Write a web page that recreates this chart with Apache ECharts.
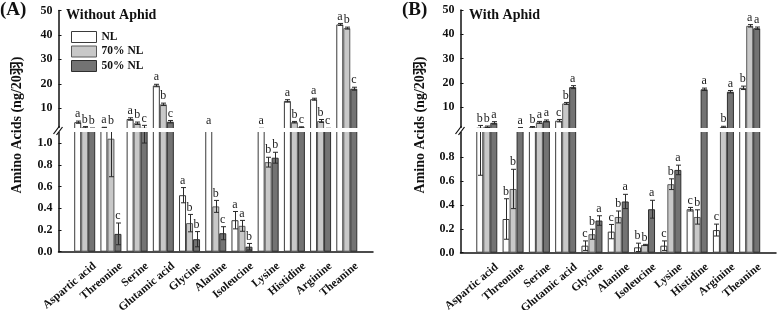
<!DOCTYPE html>
<html>
<head>
<meta charset="utf-8">
<script src="https://cdn.jsdelivr.net/npm/echarts@6/dist/echarts.min.js"></script>
<style>
  html, body { margin: 0; padding: 0; background: #fff; }
  #chart { width: 777px; height: 310px; }
</style>
</head>
<body>
<div id="chart"></div>
<script>
const categories = ['Aspartic acid', 'Threonine', 'Serine', 'Glutamic acid', 'Glycine', 'Alanine',
  'Isoleucine', 'Lysine', 'Histidine', 'Arginine', 'Theanine'];
const groups = ['NL', '70% NL', '50% NL'];
const upperTicks = [10, 20, 30, 40, 50];
const lowerTicksA = [0, 0.2, 0.4, 0.6, 0.8, 1.0];
const lowerTicksB = [0, 0.2, 0.4, 0.6, 0.8];

// (A) without aphid
const nlA = [4.3, 2.05, 5.6, 19.3, 0.52, 1.5, 0.29, 1.6, 13.0, 13.7, 44.3];
const nlErrA = [0.45, 0.15, 0.5, 0.5, 0.07, 0.2, 0.08, 0.2, 0.5, 0.4, 0.4];
const nl70A = [2.2, 1.04, 3.85, 11.6, 0.263, 0.417, 0.238, 0.824, 4.3, 4.8, 42.8];
const nl70ErrA = [0.3, 0.35, 0.5, 0.5, 0.08, 0.055, 0.05, 0.045, 0.3, 0.6, 0.4];
const nl50A = [1.6, 0.164, 2.0, 4.5, 0.115, 0.17, 0.046, 0.865, 2.2, 1.5, 18.0];
const nl50ErrA = [0.3, 0.1, 1.0, 0.5, 0.07, 0.06, 0.03, 0.05, 0.2, 0.3, 0.6];
const nlLetA = ['a', 'a', 'a', 'a', 'a', 'a', 'a', 'a', 'a', 'a', 'a'];
const nl70LetA = ['b', 'b', 'b', 'b', 'b', 'b', 'a', 'b', 'b', 'b', 'b'];
const nl50LetA = ['b', 'c', 'c', 'c', 'b', 'c', 'b', 'b', 'c', 'c', 'c'];

// (B) with aphid
const nlB = [1.6, 0.283, 1.8, 4.5, 0.059, 0.177, 0.045, 0.059, 0.365, 0.19, 18.0];
const nlErrB = [0.95, 0.17, 0.3, 0.5, 0.04, 0.06, 0.035, 0.04, 0.015, 0.05, 0.7];
const nl70B = [2.0, 0.535, 3.8, 11.6, 0.155, 0.30, 0.065, 0.575, 0.30, 1.9, 43.5];
const nl70ErrB = [0.3, 0.165, 0.4, 0.4, 0.042, 0.05, 0.005, 0.045, 0.06, 0.3, 0.5];
const nl50B = [3.6, 1.5, 4.4, 18.3, 0.27, 0.43, 0.365, 0.695, 17.4, 16.4, 42.5];
const nl50ErrB = [0.5, 0.15, 0.4, 0.6, 0.04, 0.06, 0.075, 0.04, 0.5, 0.5, 0.5];
const nlLetB = ['b', 'b', 'b', 'c', 'c', 'c', 'b', 'c', 'c', 'c', 'b'];
const nl70LetB = ['b', 'b', 'a', 'b', 'b', 'b', 'b', 'b', 'b', 'b', 'a'];
const nl50LetB = ['a', 'a', 'a', 'a', 'a', 'a', 'a', 'a', 'a', 'a', 'a'];

const SERIF = '"Liberation Serif", "Times New Roman", serif';
const BAR_W = 7;
const CAP = 2.5;
const fills = ['#ffffff', '#c8c8c8', '#737373'];
const borders = ['#3a3a3a', '#5a5a5a', '#2e2e2e'];

const panels = [
  {
    left: 58.5, right: 404, upTop: 10.5, upH: 119.5, upMin: 1.1, loTop: 130, loH: 121.7, loMax: 1.12,
    lowTicks: lowerTicksA,
    vals: [nlA, nl70A, nl50A], errs: [nlErrA, nl70ErrA, nl50ErrA], lets: [nlLetA, nl70LetA, nl50LetA]
  },
  {
    left: 460.5, right: 1, upTop: 10, upH: 120, upMin: 0.67, loTop: 130, loH: 122.7, loMax: 1.03,
    lowTicks: lowerTicksB,
    vals: [nlB, nl70B, nl50B], errs: [nlErrB, nl70ErrB, nl50ErrB], lets: [nlLetB, nl70LetB, nl50LetB]
  }
];

const axisCats = [''].concat(categories, ['']);
const pad = arr => ['-'].concat(arr, ['-']);

const grid = [], xAxis = [], yAxis = [], series = [];
const axisLine = { show: true, lineStyle: { color: '#111', width: 1.5 } };
const tickLabel = { fontFamily: SERIF, fontWeight: 'bold', fontSize: 12, color: '#111' };

function errRender(params, api) {
  const i = api.value(0), g = api.value(1), v = api.value(2), e = api.value(3);
  const hi = api.coord([i, v + e]);
  const lo = api.coord([i, v - e]);
  const x = Math.round(hi[0] + (g - 1) * BAR_W) + 0.5;
  const st = { stroke: '#2a2a2a', lineWidth: 1 };
  return {
    type: 'group',
    children: [
      { type: 'line', shape: { x1: x, y1: hi[1], x2: x, y2: lo[1] }, style: st },
      { type: 'line', shape: { x1: x - CAP, y1: hi[1], x2: x + CAP, y2: hi[1] }, style: st },
      { type: 'line', shape: { x1: x - CAP, y1: lo[1], x2: x + CAP, y2: lo[1] }, style: st }
    ]
  };
}

function letterRender(lets) {
  return function (params, api) {
    const i = api.value(0), g = api.value(1), y = api.value(2);
    const pt = api.coord([i, y]);
    return {
      type: 'text',
      x: pt[0] + (g - 1) * BAR_W,
      y: pt[1] - 1,
      style: {
        text: lets[g][i - 1], fill: '#222', font: '12px ' + SERIF,
        align: 'center', verticalAlign: 'bottom', textAlign: 'center', textVerticalAlign: 'bottom'
      }
    };
  };
}

panels.forEach((p, k) => {
  const gu = 3 * k, gl = 3 * k + 1, gx = 3 * k + 2;
  const upPx = p.upH / (50 - p.upMin);
  const loPx = p.loH / p.loMax;
  const upVis = p.upMin + 2 / upPx;
  const loVis = p.loMax - 2 / loPx;

  grid.push({ left: p.left, right: p.right, top: p.upTop, height: p.upH, outerBoundsMode: 'none', containLabel: false });
  grid.push({ left: p.left, right: p.right, top: p.loTop, height: p.loH, outerBoundsMode: 'none', containLabel: false });
  // label-only grid, shifted a little to the right like the original labels
  grid.push({ left: p.left + 10, right: p.right - 10, top: p.loTop, height: p.loH, outerBoundsMode: 'none', containLabel: false });

  xAxis.push({ gridIndex: gu, type: 'category', data: axisCats, boundaryGap: false, show: false });
  xAxis.push({
    gridIndex: gl, type: 'category', data: axisCats, boundaryGap: false,
    axisLine: axisLine, axisTick: { show: false }, axisLabel: { show: false }, splitLine: { show: false }
  });
  xAxis.push({
    gridIndex: gx, type: 'category', data: axisCats, boundaryGap: false,
    axisLine: { show: false }, axisTick: { show: false }, splitLine: { show: false },
    axisLabel: Object.assign({}, tickLabel, { interval: 0, rotate: 40, margin: 13, hideOverlap: false, fontSize: 11.5 })
  });

  yAxis.push({
    gridIndex: gu, type: 'value', min: p.upMin, max: 50,
    axisLine: axisLine, splitLine: { show: false },
    axisTick: { show: true, inside: true, length: 3, customValues: upperTicks, lineStyle: { color: '#111' } },
    axisLabel: Object.assign({ customValues: upperTicks, margin: 6, formatter: v => String(v) }, tickLabel)
  });
  yAxis.push({
    gridIndex: gl, type: 'value', min: 0, max: p.loMax,
    axisLine: axisLine, splitLine: { show: false },
    axisTick: { show: true, inside: true, length: 3, customValues: p.lowTicks, lineStyle: { color: '#111' } },
    axisLabel: Object.assign({ customValues: p.lowTicks, margin: 6, formatter: v => v.toFixed(1) }, tickLabel)
  });
  yAxis.push({ gridIndex: gx, type: 'value', min: 0, max: 1, show: false });

  groups.forEach((name, g) => {
    const common = {
      type: 'bar', name: name, data: pad(p.vals[g]), barWidth: BAR_W, barGap: '0%',
      itemStyle: { color: fills[g], borderColor: borders[g], borderWidth: 1 }, silent: true
    };
    series.push(Object.assign({ xAxisIndex: gu, yAxisIndex: gu }, common));
    series.push(Object.assign({ xAxisIndex: gl, yAxisIndex: gl }, common));
  });

  const errData = [], letUp = [], letLo = [];
  p.vals.forEach((vals, g) => {
    vals.forEach((v, i) => {
      const e = p.errs[g][i];
      errData.push([i + 1, g, v, e]);
      const top = v + e;
      if (top > loVis) letUp.push([i + 1, g, Math.max(top, upVis)]);
      else letLo.push([i + 1, g, top]);
    });
  });

  [gu, gl].forEach(ax => {
    series.push({
      type: 'custom', xAxisIndex: ax, yAxisIndex: ax, data: errData, clip: true, silent: true,
      encode: { x: 0, y: 2 }, renderItem: errRender, z: 3
    });
  });
  series.push({
    type: 'custom', xAxisIndex: gu, yAxisIndex: gu, data: letUp, clip: false, silent: true,
    encode: { x: 0, y: 2 }, renderItem: letterRender(p.lets), z: 200
  });
  series.push({
    type: 'custom', xAxisIndex: gl, yAxisIndex: gl, data: letLo, clip: false, silent: true,
    encode: { x: 0, y: 2 }, renderItem: letterRender(p.lets), z: 200
  });
});

// white band + axis break marks
const graphic = [];
panels.forEach(p => {
  const ax = p.left;
  const right = 777 - p.right;
  graphic.push({ type: 'rect', z: 100, shape: { x: ax - 2, y: 128, width: right - ax + 4, height: 4 }, style: { fill: '#fff' } });
  [[-4, 0], [-1, 1]].forEach(d => {
    graphic.push({
      type: 'line', z: 101,
      shape: { x1: ax + d[0] - 1, y1: 134 + d[1], x2: ax + d[0] + 5, y2: 126 + d[1] },
      style: { stroke: '#111', lineWidth: 1.2 }
    });
  });
});

function txt(text, x, y, font) {
  return {
    type: 'text', z: 150, x: x, y: y,
    style: { text: text, font: font, fill: '#111', align: 'left', verticalAlign: 'top', textAlign: 'left', textVerticalAlign: 'top' }
  };
}
graphic.push(txt('(A)', 0, 1, 'bold 19px ' + SERIF));
graphic.push(txt('(B)', 402, 1, 'bold 19px ' + SERIF));
graphic.push(txt('Without Aphid', 66, 8, 'bold 14px ' + SERIF));
graphic.push(txt('With Aphid', 469, 8, 'bold 14px ' + SERIF));
[17.5, 420].forEach(x => {
  graphic.push({
    type: 'text', z: 150, x: x, y: 125, rotation: Math.PI / 2,
    style: {
      text: 'Amino Acids (ng/20羽)', font: 'bold 14px ' + SERIF + ', "Noto Sans CJK SC"', fill: '#111',
      align: 'center', verticalAlign: 'middle', textAlign: 'center', textVerticalAlign: 'middle'
    }
  });
});

const chart = echarts.init(document.getElementById('chart'), null, { renderer: 'canvas' });
chart.setOption({
  animation: false,
  backgroundColor: '#fff',
  textStyle: { fontFamily: SERIF },
  legend: {
    data: groups, orient: 'vertical', left: 66, top: 26, itemWidth: 25, itemHeight: 11, itemGap: 2.5,
    icon: 'rect', selectedMode: false,
    itemStyle: { borderWidth: 1 },
    textStyle: { fontFamily: SERIF, fontWeight: 'bold', fontSize: 11.5, color: '#111' }
  },
  grid: grid,
  xAxis: xAxis,
  yAxis: yAxis,
  series: series,
  graphic: graphic
});
</script>
</body>
</html>
